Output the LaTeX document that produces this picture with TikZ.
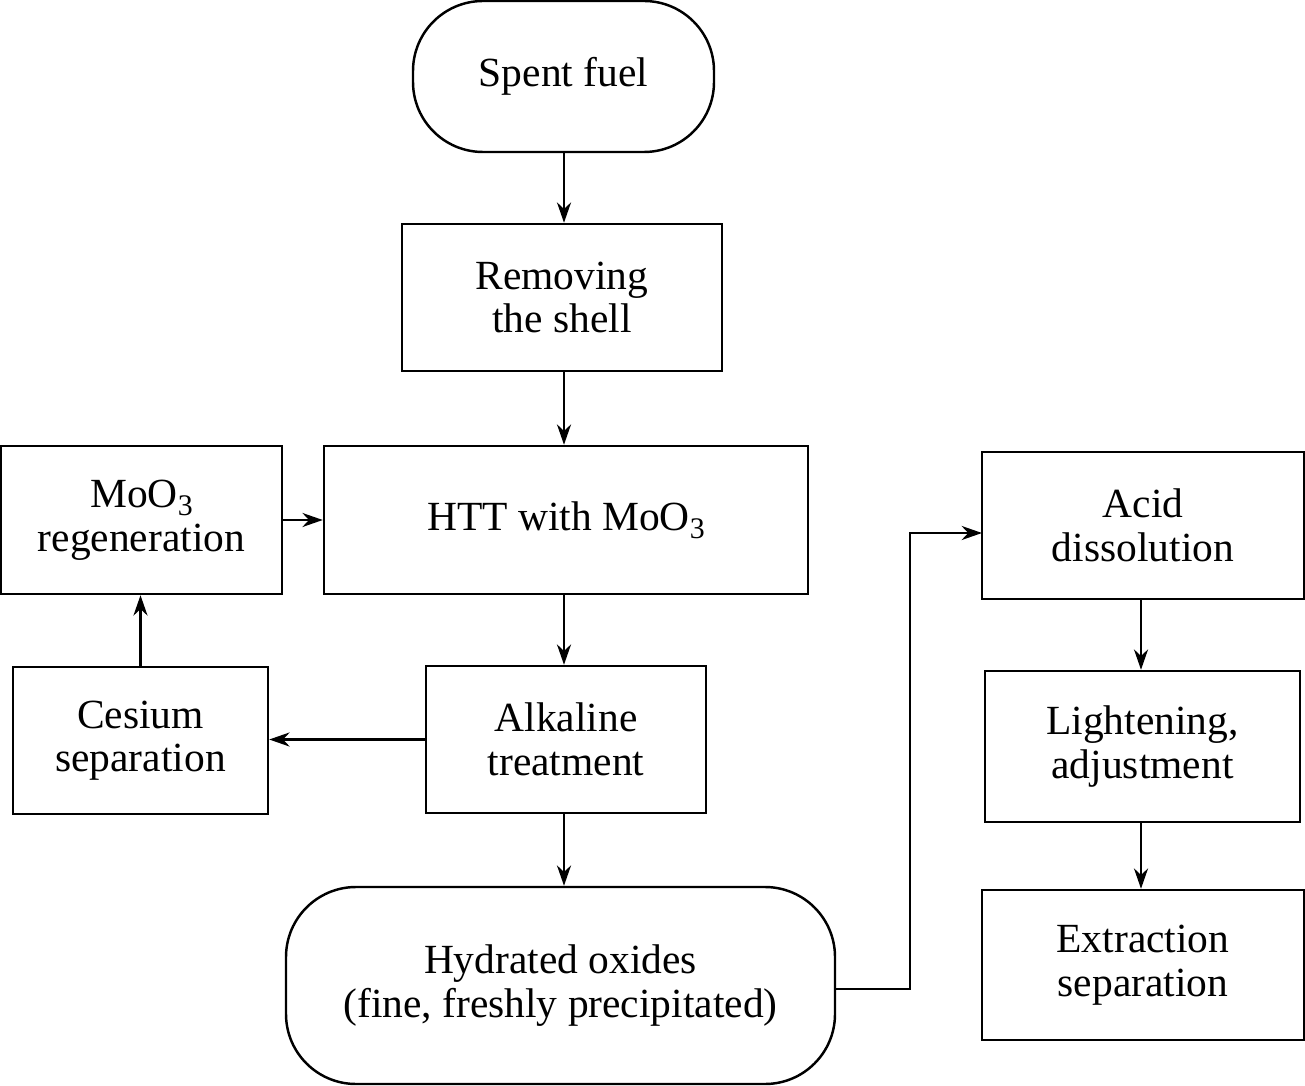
\documentclass[tikz,border=0pt]{standalone}
\usepackage{fontspec}
\setmainfont{Liberation Serif}
\usepackage{tikz}
\usetikzlibrary{arrows.meta}
\usetikzlibrary{positioning}
\newcommand{\moxide}{MoO\raisebox{-0.42ex}{\fontsize{8.5}{8.5}\selectfont 3}}

\begin{document}
\begin{tikzpicture}[line width=0.7pt,
  every node/.style={draw,align=center,inner sep=0pt,font=\fontsize{11.8}{12.4}\selectfont},
  box/.style={rectangle},
  pill/.style={rectangle,rounded corners=0.7cm},
  flow/.style={-{Stealth[length=5.8pt,width=4pt,inset=1.9pt]}}]
  \useasboundingbox (0,0) rectangle (13.05,-10.86);

  \node[pill,minimum width=3.01cm,minimum height=1.51cm] (fuel) at (5.635,-0.765){Spent fuel};
  \node[box,minimum width=3.20cm,minimum height=1.47cm] (shell) at (5.62,-2.975){Removing\\the shell};
  \node[box,minimum width=4.84cm,minimum height=1.48cm] (htt) at (5.66,-5.20){HTT with \moxide};
  \node[box,minimum width=2.81cm,minimum height=1.48cm] (regen) at (1.415,-5.20){\moxide\\regeneration};
  \node[box,minimum width=2.55cm,minimum height=1.47cm] (cesium) at (1.405,-7.405){Cesium\\separation};
  \node[box,minimum width=2.80cm,minimum height=1.47cm] (alkali) at (5.66,-7.395){Alkaline\\treatment};
  \node[pill,minimum width=5.49cm,minimum height=1.97cm] (oxides) at (5.605,-9.855){Hydrated oxides\\(fine, freshly precipitated)};

  \node[box,minimum width=3.22cm,minimum height=1.47cm] (acid) at (11.43,-5.255){Acid\\dissolution};
  \node[box,minimum width=3.15cm,minimum height=1.51cm] (lighten) at (11.425,-7.465){Lightening,\\adjustment};
  \node[box,minimum width=3.22cm,minimum height=1.50cm] (extract) at (11.43,-9.65){Extraction\\separation};

  \coordinate (bend) at (9.10,-9.89);
  \coordinate (inlet) at (9.82,-5.33);

  \draw[flow](fuel.south -| 5.64,0)--(shell.north -| 5.64,0);
  \draw[flow](shell.south -| 5.64,0)--(htt.north -| 5.64,0);
  \draw[flow](regen.east)--(htt.west |- regen.east);
  \draw[flow](cesium.north)--(regen.south -| cesium.north);
  \draw[flow](alkali.west)--(cesium.east |- alkali.west);
  \draw[flow](htt.south -| 5.64,0)--(alkali.north -| 5.64,0);
  \draw[flow](alkali.south -| 5.64,0)--(oxides.north -| 5.64,0);
  \draw[flow](oxides.east |- bend)--(bend)|-(inlet);
  \draw[flow](acid.south -| 11.41,0)--(lighten.north -| 11.41,0);
  \draw[flow](lighten.south -| 11.41,0)--(extract.north -| 11.41,0);
\end{tikzpicture}
\end{document}
